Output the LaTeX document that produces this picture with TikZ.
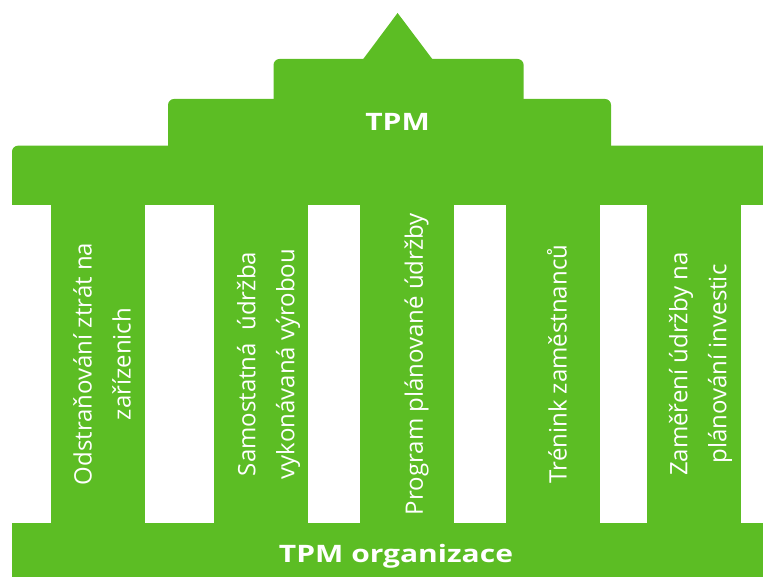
\documentclass[tikz,border=0pt]{standalone}
\usepackage{fontspec}
\setmainfont{Open Sans}
\usepackage{tikz}
\definecolor{tpmgreen}{RGB}{92,189,36}
\tikzset{
  pillartext/.style={rotate=90, text=white, align=center, inner sep=0pt, font=\fontsize{24}{39}\selectfont},
  titletext/.style={text=white, inner sep=0pt, xscale=1.25, font=\bfseries\fontsize{24}{28}\selectfont}
}
\def\pillar(#1:#2){\fill[tpmgreen] (#1, 52) rectangle (#2, 372);}

\begin{document}
\begin{tikzpicture}[x=1pt, y=1pt]
	%%%%% START %%%%%
	\useasboundingbox (0, 0) rectangle (763, 576);
	\clip (0, 0) rectangle (763, 576);
	
	% roof in three tiers, top corners rounded
	\fill[tpmgreen, rounded corners=6] (12, 390) rectangle (800, 430.3);
	\fill[tpmgreen] (12, 371) rectangle (800, 400);
	\fill[tpmgreen, rounded corners=6] (168, 420) rectangle (611, 477);
	\fill[tpmgreen, rounded corners=6] (273.5, 465) rectangle (523.6, 517);
	\fill[tpmgreen] (362.5, 516) -- (397.6, 563) -- (433, 516) -- cycle;
	
	% pillars
	\pillar(51:144.5)
	\pillar(214:307.5)
	\pillar(360:454)
	\pillar(506:600)
	\pillar(647:740.6)
	
	% base
	\fill[tpmgreen] (12, -10) rectangle (800, 53);
	
	\node[titletext] (tpm) at (397.6, 454.5) {TPM};
	\node[titletext] (org) at (396, 20) {TPM organizace};
	
	\node[pillartext] (ztraty) at (102, 212) {Odstraňování ztrát na\\zařízenich};
	\node[pillartext] (samostatna) at (268.5, 212) {Samostatná\ \ údržba\\vykonávaná výrobou};
	\node[pillartext] (program) at (416.5, 212) {Program plánované údržby};
	\node[pillartext] (trenink) at (557, 212) {Trénink zaměstnanců};
	\node[pillartext] (investice) at (700.5, 212) {Zaměření údržby na\\plánování investic};
	
	%%%%% END %%%%%
\end{tikzpicture}
\end{document}
